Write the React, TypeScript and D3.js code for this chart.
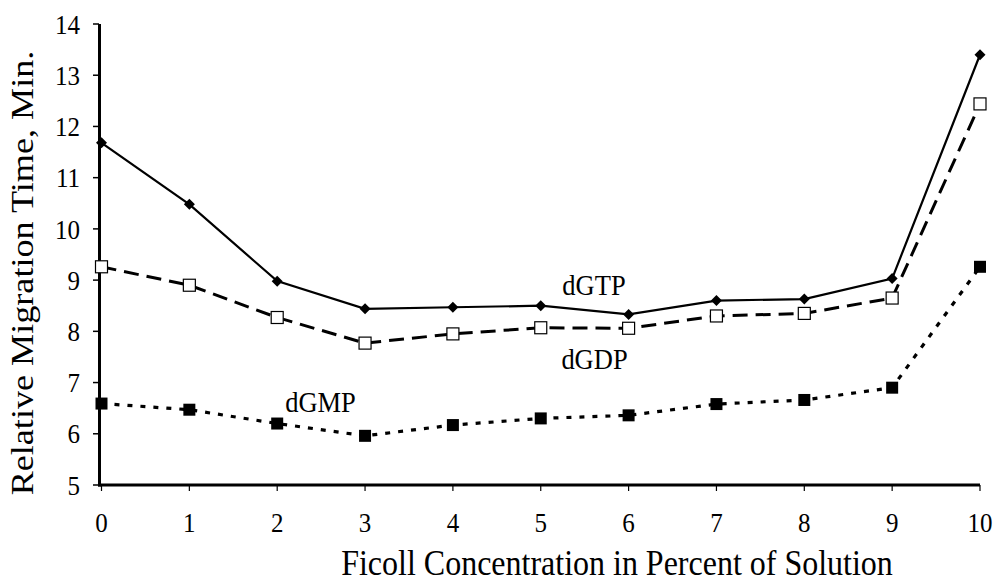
import React from "react";
import * as d3 from "d3";

const concentrations = [0, 1, 2, 3, 4, 5, 6, 7, 8, 9, 10];
const dGTP = [11.68, 10.48, 8.98, 8.44, 8.47, 8.5, 8.33, 8.6, 8.63, 9.03, 13.4];
const dGDP = [9.26, 8.9, 8.27, 7.77, 7.95, 8.07, 8.06, 8.3, 8.35, 8.65, 12.44];
const dGMP = [6.59, 6.47, 6.2, 5.96, 6.17, 6.3, 6.36, 6.58, 6.66, 6.9, 9.26];
const yTicks = [5, 6, 7, 8, 9, 10, 11, 12, 13, 14];
const xTicks = [0, 1, 2, 3, 4, 5, 6, 7, 8, 9, 10];
const seriesLabels = ["dGTP", "dGDP", "dGMP"];

const W = 998;
const H = 581;
const font = "'Liberation Serif', 'Times New Roman', serif";
const SY = 1.13;

function T(props: {
  x: number;
  y: number;
  size: number;
  anchor?: string;
  rotate?: number;
  dy?: string;
  children: React.ReactNode;
}) {
  const { x, y, size, anchor = "middle", rotate = 0, dy, children } = props;
  return (
    <text
      transform={`translate(${x},${y}) scale(1,${SY}) rotate(${rotate})`}
      textAnchor={anchor}
      fontFamily={font}
      fontSize={size}
      dy={dy}
      fill="#000"
    >
      {children}
    </text>
  );
}

export default function App() {
  const x = d3.scaleLinear().domain([0, 10]).range([101.5, 980]);
  const y = d3.scaleLinear().domain([5, 14]).range([485, 24]);
  const line = d3
    .line<number>()
    .x((_, i) => x(concentrations[i]))
    .y((d) => y(d));

  return (
    <svg
      width={W}
      height={H}
      style={{ position: "absolute", left: 0, top: 0, background: "#fff" }}
    >
      {/* axes */}
      <line x1={99.5} y1={y(14)} x2={99.5} y2={y(5) + 1.5} stroke="#000" strokeWidth={3} />
      <line x1={98} y1={y(5)} x2={x(10)} y2={y(5)} stroke="#000" strokeWidth={3} />
      {yTicks.map((t) => (
        <g key={"y" + t}>
          <line x1={93} x2={99} y1={y(t)} y2={y(t)} stroke="#000" strokeWidth={1.5} />
          <T x={80} y={y(t)} size={25} anchor="end" dy="0.34em">
            {t}
          </T>
        </g>
      ))}
      {xTicks.map((t) => (
        <g key={"x" + t}>
          <line x1={x(t)} x2={x(t)} y1={y(5)} y2={y(5) + 6} stroke="#000" strokeWidth={1.2} />
          <T x={x(t)} y={532} size={25}>
            {t}
          </T>
        </g>
      ))}
      <T x={617} y={575} size={32}>
        Ficoll Concentration in Percent of Solution
      </T>
      <T x={33} y={273} size={32} rotate={-90}>
        Relative Migration Time, Min.
      </T>

      {/* dGMP dotted */}
      <path
        d={line(dGMP) || ""}
        fill="none"
        stroke="#000"
        strokeWidth={3.2}
        strokeDasharray="5 8"
      />
      {dGMP.map((v, i) => (
        <rect
          key={"m" + i}
          x={x(concentrations[i]) - 6}
          y={y(v) - 6}
          width={12}
          height={12}
          fill="#000"
        />
      ))}

      {/* dGDP dashed */}
      <path
        d={line(dGDP) || ""}
        fill="none"
        stroke="#000"
        strokeWidth={3}
        strokeDasharray="15 8"
      />
      {dGDP.map((v, i) => (
        <rect
          key={"d" + i}
          x={x(concentrations[i]) - 6}
          y={y(v) - 6}
          width={12}
          height={12}
          fill="#fff"
          stroke="#000"
          strokeWidth={1.2}
        />
      ))}

      {/* dGTP solid */}
      <path d={line(dGTP) || ""} fill="none" stroke="#000" strokeWidth={2.2} />
      {dGTP.map((v, i) => {
        const cx = x(concentrations[i]);
        const cy = y(v);
        const r = 5.5;
        return (
          <path
            key={"t" + i}
            d={`M${cx},${cy - r}L${cx + r},${cy}L${cx},${cy + r}L${cx - r},${cy}Z`}
            fill="#000"
          />
        );
      })}

      <T x={594} y={295} size={26.5}>
        {seriesLabels[0]}
      </T>
      <T x={594.5} y={369} size={26.5}>
        {seriesLabels[1]}
      </T>
      <T x={320.5} y={412} size={26.5}>
        {seriesLabels[2]}
      </T>
    </svg>
  );
}
